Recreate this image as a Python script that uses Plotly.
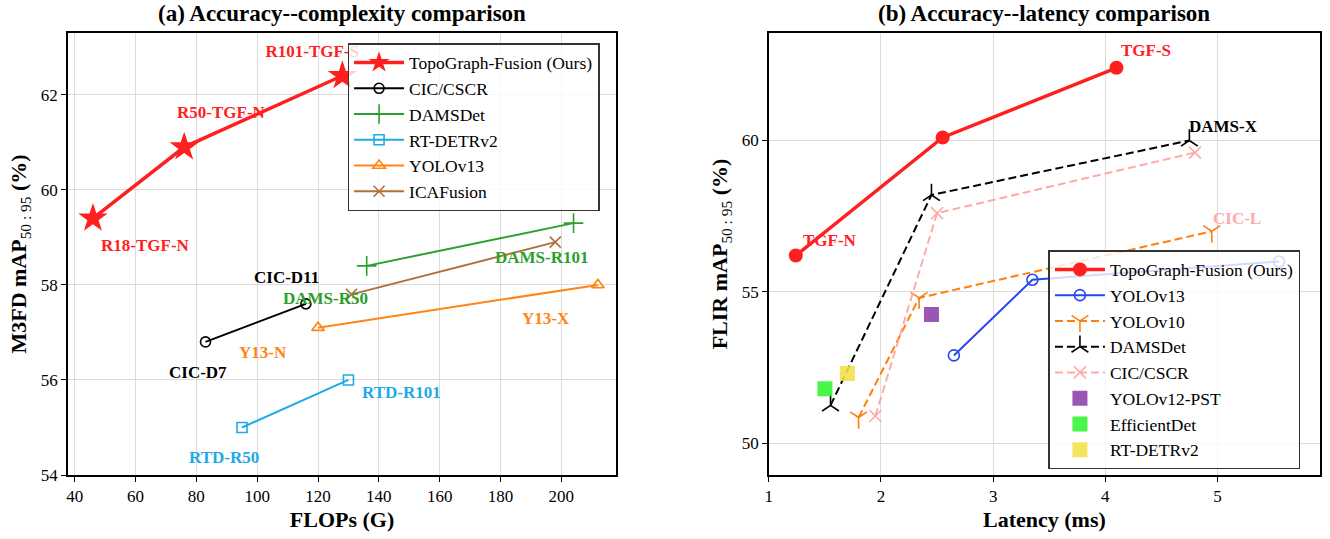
import plotly.graph_objects as go

# ---------------- data: (a) accuracy vs complexity (M3FD) ----------------
tgf_flops = [46, 76, 128]
tgf_m3fd = [59.4, 60.9, 62.4]
cic_flops = [83, 116]
cic_m3fd = [56.8, 57.6]
dams_flops = [136, 204]
dams_m3fd = [58.4, 59.3]
rtd_flops = [95, 130]
rtd_m3fd = [55.0, 56.0]
y13_flops = [120, 212]
y13_m3fd = [57.1, 58.0]
ica_flops = [131, 198]
ica_m3fd = [57.8, 58.9]

# ---------------- data: (b) accuracy vs latency (FLIR) ----------------
tgf_lat = [1.24, 2.55, 4.1]
tgf_flir = [56.2, 60.1, 62.4]
y13_lat = [2.65, 3.35, 5.55]
y13_flir = [52.9, 55.4, 56.0]
y10_lat = [1.8, 2.34, 4.95]
y10_flir = [50.85, 54.8, 57.0]
damsb_lat = [1.55, 2.45, 4.75]
damsb_flir = [51.25, 58.2, 60.0]
cicb_lat = [1.95, 2.5, 4.8]
cicb_flir = [50.9, 57.6, 59.6]
y12pst_lat = [2.45]
y12pst_flir = [54.25]
effdet_lat = [1.5]
effdet_flir = [51.8]
rtdetr_lat = [1.7]
rtdetr_flir = [52.3]

SERIF = "Liberation Serif, 'Times New Roman', Times, serif"
RED = "#ff1f1f"
GREEN = "#2ca02c"
SKY = "#1eaae8"
ORANGE = "#ff8515"
BROWN = "#b0703c"
BLUE = "#2846f0"
ORANGE2 = "#ff7f0e"
PINK = "#ffaaaa"

# axis ranges and geometry (pixels of the plotting frame)
X1_RANGE = [37.8, 218]
Y1_RANGE = [54, 63.3]
X2_RANGE = [1, 5.915]
Y2_RANGE = [48.95, 63.55]
ML, MR, MT, MB = 68, 8, 33, 64
W, H = 1330, 539
DOM1 = [0, 0.4378]
DOM2 = [0.5598, 1]
PLOT_W = W - ML - MR
PLOT_H = H - MT - MB
px_per_x1 = PLOT_W * (DOM1[1] - DOM1[0]) / (X1_RANGE[1] - X1_RANGE[0])
px_per_y1 = PLOT_H / (Y1_RANGE[1] - Y1_RANGE[0])

fig = go.Figure()

# ---- left panel traces
def add_left(x, y, name, color, symbol, size, width, msize_line=1.6):
    fig.add_trace(go.Scatter(
        x=x, y=y, name=name, mode="lines+markers", legend="legend",
        line=dict(color=color, width=width),
        marker=dict(symbol=symbol, size=size, color=color,
                    line=dict(color=color, width=msize_line)),
        xaxis="x", yaxis="y"))

# label partly hidden behind legend (drawn in the plot layer, below the legend)
fig.add_trace(go.Scatter(
    x=[tgf_flops[2] - 77 / px_per_x1], y=[tgf_m3fd[2] + 23 / px_per_y1],
    mode="text", text=["<b>R101-TGF-S</b>"], textposition="middle right",
    textfont=dict(family=SERIF, size=17, color=RED), showlegend=False,
    hoverinfo="skip", xaxis="x", yaxis="y"))

add_left(tgf_flops, tgf_m3fd, "TopoGraph-Fusion (Ours)", RED, "star", 22, 3.5, 0)
add_left(cic_flops, cic_m3fd, "CIC/CSCR", "black", "circle-open", 10, 2)
add_left(dams_flops, dams_m3fd, "DAMSDet", GREEN, "cross-thin-open", 14, 2)
add_left(rtd_flops, rtd_m3fd, "RT-DETRv2", SKY, "square-open", 10, 2)
add_left(y13_flops, y13_m3fd, "YOLOv13", ORANGE, "triangle-up-open", 11, 2)
add_left(ica_flops, ica_m3fd, "ICAFusion", BROWN, "x-thin-open", 11, 2)

# ---- right panel traces
def add_right(x, y, name, color, symbol, size, width, dash="solid", mode="lines+markers", mline=1.6, opacity=1.0):
    fig.add_trace(go.Scatter(
        x=x, y=y, name=name, mode=mode, legend="legend2",
        line=dict(color=color, width=width, dash=dash),
        marker=dict(symbol=symbol, size=size, color=color, opacity=opacity,
                    line=dict(color=color, width=mline)),
        xaxis="x2", yaxis="y2"))

add_right(tgf_lat, tgf_flir, "TopoGraph-Fusion (Ours)", RED, "circle", 14, 3.5, mline=0)
add_right(y13_lat, y13_flir, "YOLOv13", BLUE, "circle-open", 11, 2)
add_right(y10_lat, y10_flir, "YOLOv10", ORANGE2, "y-down-open", 14, 2, dash="8px,4px")
add_right(damsb_lat, damsb_flir, "DAMSDet", "black", "y-up-open", 14, 2, dash="8px,4px")
add_right(cicb_lat, cicb_flir, "CIC/CSCR", PINK, "x-thin-open", 12, 2, dash="8px,4px")
add_right(y12pst_lat, y12pst_flir, "YOLOv12-PST", "#8e44ad", "square", 15, 0, mode="markers", mline=0, opacity=0.9)
add_right(effdet_lat, effdet_flir, "EfficientDet", "#33f533", "square", 15, 0, mode="markers", mline=0, opacity=0.9)
add_right(rtdetr_lat, rtdetr_flir, "RT-DETRv2", "#f2e04c", "square", 15, 0, mode="markers", mline=0, opacity=0.9)

# ---- point labels (anchored on data points, pixel offsets)
left_labels = [
    ("R18-TGF-N", tgf_flops[0], tgf_m3fd[0], 53, -27, RED, "center"),
    ("R50-TGF-N", tgf_flops[1], tgf_m3fd[1], 37, 35, RED, "center"),
    ("CIC-D7", cic_flops[0], cic_m3fd[0], -7, -31, "black", "center"),
    ("CIC-D11", cic_flops[1], cic_m3fd[1], -19, 26, "black", "center"),
    ("DAMS-R50", dams_flops[0], dams_m3fd[0], -41, -33, GREEN, "center"),
    ("DAMS-R101", dams_flops[1], dams_m3fd[1], -32, -34, GREEN, "center"),
    ("Y13-N", y13_flops[0], y13_m3fd[0], -55, -25, ORANGE, "center"),
    ("Y13-X", y13_flops[1], y13_m3fd[1], -52, -34, ORANGE, "center"),
    ("RTD-R50", rtd_flops[0], rtd_m3fd[0], -18, -30, SKY, "center"),
    ("RTD-R101", rtd_flops[1], rtd_m3fd[1], 53, -13, SKY, "center"),
]
right_labels = [
    ("TGF-N", tgf_lat[0], tgf_flir[0], 34, 15, RED, "center"),
    ("TGF-S", tgf_lat[2], tgf_flir[2], 30, 17, RED, "center"),
    ("DAMS-X", damsb_lat[2], damsb_flir[2], 34, 14, "black", "center"),
    ("CIC-L", y10_lat[2], y10_flir[2], 25, 13, PINK, "center"),
]
annotations = []
for labels, xr, yr in ((left_labels, "x", "y"), (right_labels, "x2", "y2")):
    for text, x, y, dx, dy, col, xa in labels:
        annotations.append(dict(
            text="<b>" + text + "</b>", x=x, y=y, xref=xr, yref=yr, xshift=dx, yshift=dy,
            xanchor=xa, yanchor="middle", showarrow=False,
            font=dict(family=SERIF, size=17, color=col)))

# panel titles
for text, dom in (("(a) Accuracy--complexity comparison", "x domain"),
                  ("(b) Accuracy--latency comparison", "x2 domain")):
    annotations.append(dict(
        text="<b>" + text + "</b>", x=0.5, y=1.0, xref=dom, yref="paper", yshift=5,
        xanchor="center", yanchor="bottom", showarrow=False,
        font=dict(family=SERIF, size=23, color="black")))

axis_common = dict(
    showline=True, mirror=True, linecolor="black", linewidth=1.5,
    ticks="outside", ticklen=5, tickwidth=1.2, tickcolor="black",
    showgrid=True, gridcolor="#dcdcdc", gridwidth=1, zeroline=False,
    tickfont=dict(family=SERIF, size=17, color="black"),
)
title_font = dict(family=SERIF, size=22, color="black")
legend_common = dict(
    xanchor="left", yanchor="top", bgcolor="rgba(255,255,255,0.8)",
    bordercolor="#333333", borderwidth=1.5, itemwidth=50,
    font=dict(family=SERIF, size=17.5, color="black"), tracegroupgap=0)

fig.update_layout(
    width=W, height=H,
    margin=dict(l=ML, r=MR, t=MT, b=MB),
    paper_bgcolor="white", plot_bgcolor="white",
    font=dict(family=SERIF, color="black"),
    xaxis=dict(domain=DOM1, range=X1_RANGE, tickvals=[40, 60, 80, 100, 120, 140, 160, 180, 200],
               title=dict(text="<b>FLOPs (G)</b>", font=title_font, standoff=6), anchor="y", **axis_common),
    yaxis=dict(domain=[0, 1], range=Y1_RANGE, tickvals=[54, 56, 58, 60, 62],
               title=dict(text="<b>M3FD mAP</b><sub>50 : 95</sub><b> (%)</b>", font=title_font, standoff=8),
               anchor="x", **axis_common),
    xaxis2=dict(domain=DOM2, range=X2_RANGE, tickvals=[1, 2, 3, 4, 5],
                title=dict(text="<b>Latency (ms)</b>", font=title_font, standoff=6), anchor="y2", **axis_common),
    yaxis2=dict(domain=[0, 1], range=Y2_RANGE, tickvals=[50, 55, 60],
                title=dict(text="<b>FLIR mAP</b><sub>50 : 95</sub><b> (%)</b>", font=title_font, standoff=8),
                anchor="x2", **axis_common),
    legend=dict(x=0.2233, y=0.977, **legend_common),
    legend2=dict(x=0.7831, y=0.509, **legend_common),
    annotations=annotations,
    showlegend=True,
)

fig.write_html("out.html")
